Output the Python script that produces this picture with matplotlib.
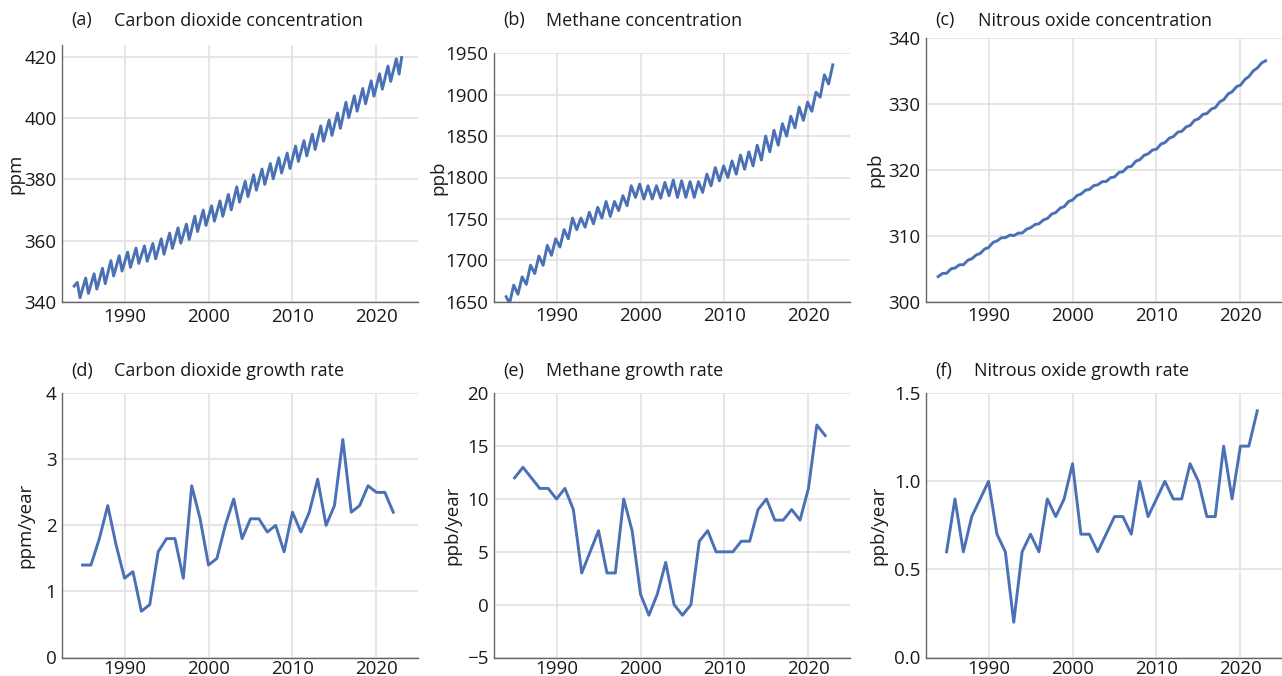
import numpy as np
import matplotlib.pyplot as plt
from matplotlib.ticker import FormatStrFormatter

plt.rcParams['font.family'] = ['Open Sans', 'DejaVu Sans']

# --- concentrations: one seasonal high and low per year ---
years_conc = np.arange(1984, 2023)

co2_start = 345.2
co2_peak = [346.4, 347.8, 349.2, 351.0, 353.5, 355.1, 356.3, 357.6, 358.3, 359.1,
            360.6, 362.5, 364.2, 365.4, 368.0, 370.0, 371.4, 373.0, 375.1, 377.6,
            379.4, 381.5, 383.4, 385.2, 387.1, 388.6, 390.9, 392.7, 394.8, 397.5,
            399.4, 401.7, 405.2, 407.3, 409.7, 412.2, 414.5, 417.0, 419.4]
co2_trough = [341.4, 342.8, 344.2, 346.0, 348.5, 350.1, 351.3, 352.6, 353.3, 354.1,
              355.6, 357.5, 359.2, 360.4, 363.0, 365.0, 366.4, 368.0, 370.1, 372.6,
              374.4, 376.5, 378.4, 380.2, 382.1, 383.6, 385.9, 387.7, 389.8, 392.5,
              394.4, 396.7, 400.2, 402.3, 404.7, 407.2, 409.5, 412.0, 414.4]
co2_end = 419.8

ch4_start = 1656
ch4_trough = [1648, 1659, 1671, 1684, 1694, 1706, 1716, 1726, 1737, 1740,
              1744, 1751, 1753, 1760, 1766, 1776, 1774, 1774, 1775, 1778,
              1776, 1776, 1776, 1782, 1790, 1796, 1800, 1804, 1810, 1814,
              1821, 1831, 1839, 1850, 1860, 1869, 1880, 1897, 1913]
ch4_peak = [1670, 1680, 1694, 1705, 1718, 1726, 1737, 1751, 1751, 1758,
            1764, 1771, 1771, 1778, 1790, 1792, 1790, 1790, 1794, 1797,
            1796, 1795, 1795, 1804, 1812, 1814, 1820, 1827, 1831, 1839,
            1850, 1857, 1865, 1874, 1885, 1891, 1903, 1924, 1936]

# n2o: value at start of each year 1984..2023 and mid-year value 1984..2022
n2o_low = [303.8, 304.3, 305.1, 305.6, 306.5, 307.3, 308.2, 309.2, 309.7, 310.0,
           310.4, 311.2, 311.8, 312.6, 313.5, 314.4, 315.4, 316.3, 317.0, 317.7,
           318.2, 318.9, 319.7, 320.5, 321.5, 322.4, 323.1, 324.1, 325.0, 325.8,
           326.7, 327.7, 328.5, 329.4, 330.6, 331.8, 332.8, 334.1, 335.4, 336.5]
n2o_high = [304.3, 305.0, 305.6, 306.3, 307.1, 308.0, 309.0, 309.7, 310.1, 310.4,
            311.0, 311.7, 312.4, 313.3, 314.2, 315.2, 316.1, 316.9, 317.6, 318.2,
            318.8, 319.6, 320.4, 321.3, 322.2, 323.0, 323.9, 324.8, 325.7, 326.5,
            327.5, 328.4, 329.2, 330.3, 331.5, 332.6, 333.7, 335.0, 336.2]

# --- annual growth rates ---
years_growth = np.arange(1985, 2023)
co2_growth = [1.4, 1.4, 1.8, 2.3, 1.7, 1.2, 1.3, 0.7, 0.8, 1.6,
              1.8, 1.8, 1.2, 2.6, 2.1, 1.4, 1.5, 2.0, 2.4, 1.8,
              2.1, 2.1, 1.9, 2.0, 1.6, 2.2, 1.9, 2.2, 2.7, 2.0,
              2.3, 3.3, 2.2, 2.3, 2.6, 2.5, 2.5, 2.2]
ch4_growth = [12, 13, 12, 11, 11, 10, 11, 9, 3, 5,
              7, 3, 3, 10, 7, 1, -1, 1, 4, 0,
              -1, 0, 6, 7, 5, 5, 5, 6, 6, 9,
              10, 8, 8, 9, 8, 11, 17, 16]
n2o_growth = [0.6, 0.9, 0.6, 0.8, 0.9, 1.0, 0.7, 0.6, 0.2, 0.6,
              0.7, 0.6, 0.9, 0.8, 0.9, 1.1, 0.7, 0.7, 0.6, 0.7,
              0.8, 0.8, 0.7, 1.0, 0.8, 0.9, 1.0, 0.9, 0.9, 1.1,
              1.0, 0.8, 0.8, 1.2, 0.9, 1.2, 1.2, 1.4]


def seasonal(first, a_vals, a_off, b_vals, b_off, last=None):
    t, v = [years_conc[0]], [first]
    for y, a, b in zip(years_conc, a_vals, b_vals):
        t += [y + a_off, y + b_off]
        v += [a, b]
    if last is not None:
        t.append(years_conc[-1] + 1)
        v.append(last)
    return t, v


co2_t, co2_v = seasonal(co2_start, co2_peak, 0.37, co2_trough, 0.70, co2_end)
ch4_t, ch4_v = seasonal(ch4_start, ch4_trough, 0.40, ch4_peak, 0.90)
n2o_t, n2o_v = seasonal(n2o_low[0], n2o_high, 0.55, n2o_low[1:], 1.0)

LINE = '#4a70b5'
TXT = '#1a1a1a'
W, H = 1282, 676

fig = plt.figure(figsize=(W / 100, H / 100), dpi=100)


def make_ax(left, top, bottom):
    return fig.add_axes([left / W, 1 - bottom / H, 356 / W, (bottom - top) / H])


panels = [
    # left, top, bottom, x, y, ylim, yticks, ylabel, ylabel x (px), tag, title
    (62, 45, 302, co2_t, co2_v, (340, 423.9), [340, 360, 380, 400, 420], 'ppm', 24,
     '(a)', 'Carbon dioxide concentration'),
    (494, 53.3, 301.7, ch4_t, ch4_v, (1650, 1950), range(1650, 1951, 50), 'ppb', 447,
     '(b)', 'Methane concentration'),
    (926, 37.7, 301.7, n2o_t, n2o_v, (300, 340), [300, 310, 320, 330, 340], 'ppb', 884,
     '(c)', 'Nitrous oxide concentration'),
    (62, 393.3, 657.5, years_growth, co2_growth, (0, 4), [0, 1, 2, 3, 4], 'ppm/year', 34,
     '(d)', 'Carbon dioxide growth rate'),
    (494, 393.3, 657.5, years_growth, ch4_growth, (-5, 20), [-5, 0, 5, 10, 15, 20],
     'ppb/year', 461, '(e)', 'Methane growth rate'),
    (926, 393.3, 657.5, years_growth, n2o_growth, (0, 1.5), [0, 0.5, 1.0, 1.5],
     'ppb/year', 887, '(f)', 'Nitrous oxide growth rate'),
]

for i, (left, top, bottom, x, y, ylim, yticks, ylabel, ylx, tag, title) in enumerate(panels):
    ax = make_ax(left, top, bottom)
    ax.plot(x, y, color=LINE, lw=2.1, solid_joinstyle='round')
    ax.set_xlim(1982.55, 2024.95)
    ax.set_ylim(*ylim)
    ax.set_xticks([1990, 2000, 2010, 2020])
    ax.set_yticks(list(yticks))
    if tag == '(f)':
        ax.yaxis.set_major_formatter(FormatStrFormatter('%.1f'))
    ax.grid(True, color='#e1e1e1', lw=1.2)
    ax.set_axisbelow(True)
    for s in ('top', 'right'):
        ax.spines[s].set_visible(False)
    for s in ('left', 'bottom'):
        ax.spines[s].set_color('#666666')
        ax.spines[s].set_linewidth(1.0)
    ax.tick_params(length=0, labelsize=13.5, colors=TXT)
    ax.tick_params(axis='y', pad=4)
    ax.tick_params(axis='x', pad=4 if i < 3 else 1.5)
    ax.set_ylabel(ylabel, fontsize=13.5, color=TXT)
    ax.yaxis.set_label_coords((ylx - left) / 356, 0.5)

    ty = 20.5 if i < 3 else 370.5
    fig.text((left + 9) / W, 1 - ty / H, tag, fontsize=13, va='center', color=TXT)
    off = 48 if tag == '(f)' else 52
    fig.text((left + off) / W, 1 - ty / H, title, fontsize=13, va='center', color=TXT)

fig.savefig('out.png', dpi=100)
